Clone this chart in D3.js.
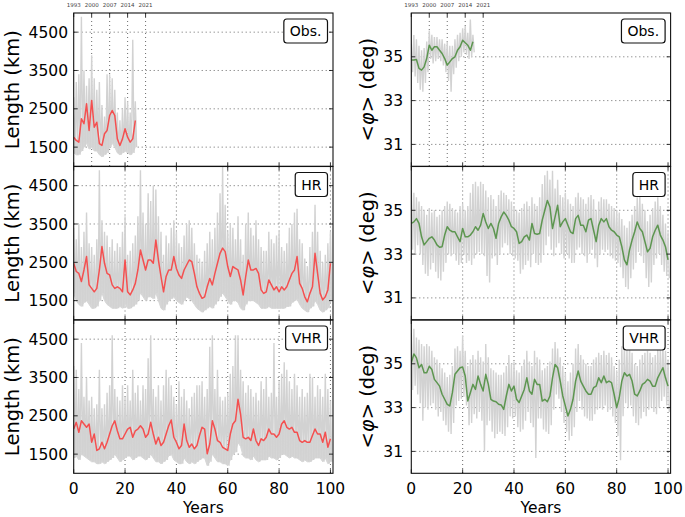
<!DOCTYPE html>
<html>
<head>
<meta charset="utf-8">
<script src="https://cdn.jsdelivr.net/npm/d3@7"></script>
<style>
  body { margin: 0; background: #fff; }
  text { font-family: "DejaVu Sans", sans-serif; }
</style>
</head>
<body>
<svg id="chart" width="685" height="517"></svg>
<script>
// ---- data (yearly values) ----
const obsTickYears = [0, 7, 14, 21, 28];
const obsTickLabels = ['1993', '2000', '2007', '2014', '2021'];
const xTicks = [0, 20, 40, 60, 80, 100];
const lengthTicks = [1500, 2500, 3500, 4500];
const latTicks = [31, 33, 35];
const panelNames = ['Obs.', 'HR', 'VHR'];

// front length (km)
const lenObsMean = [1760, 1675, 1630, 2240, 2110, 2630, 1935, 2720, 2020, 2150, 1590, 1545, 1850, 1935, 2325, 2455, 2325, 1715, 1545, 1715, 1980, 1760, 1630, 1715, 2195];
const lenObsHigh = [2800, 3200, 3400, 4900, 3500, 3100, 3300, 3900, 3300, 3000, 3200, 2600, 2300, 3400, 3400, 3300, 3000, 2400, 2200, 2500, 2800, 2700, 2400, 4300, 2700];
const lenObsLow = [1350, 1300, 1300, 1400, 1500, 1600, 1450, 1500, 1400, 1400, 1300, 1250, 1300, 1350, 1500, 1600, 1500, 1350, 1300, 1350, 1400, 1350, 1300, 1350, 1500];

const lenHrMean = [2475, 2260, 2210, 2000, 2300, 2650, 1910, 1820, 1730, 1820, 2300, 2910, 2475, 2210, 2170, 1910, 1820, 1860, 1820, 1730,
  2560, 1730, 1650, 1780, 1950, 2300, 2820, 2560, 2300, 2560, 2560, 2475, 3080, 2560, 2130, 1730, 2130, 2300, 2300, 2650,
  2340, 2170, 2080, 2300, 2430, 2560, 2520, 2210, 1860, 1690, 1560, 1600, 1860, 2080, 1910, 2210, 2475, 2735, 2870, 2780,
  2390, 2130, 2390, 2340, 2300, 2040, 1650, 2130, 2560, 2300, 2300, 2340, 2210, 1780, 1690, 1730, 2040, 1910, 1780, 1860,
  1730, 1860, 1780, 1860, 2040, 2210, 2300, 2650, 1950, 1820, 1600, 1470, 1690, 1860, 2735, 2210, 1690, 1520, 1600, 1780, 2475];
const lenHrHigh = [3400, 3100, 3500, 2900, 3300, 3800, 3000, 2900, 2700, 3100, 4900, 3600, 3300, 3200, 2900, 3100, 2800, 3000, 2900, 3300,
  3700, 2700, 2800, 3000, 3200, 3700, 4900, 3800, 3500, 4300, 4100, 4500, 4400, 3700, 3300, 2700, 3200, 3000, 3400, 3600,
  3300, 3000, 2900, 3200, 3500, 3600, 3400, 3000, 2700, 2600, 2500, 2800, 3000, 3300, 3100, 3400, 3800, 4300, 5000, 4000,
  3300, 3500, 3400, 3100, 3700, 3100, 2700, 3500, 3800, 3400, 3200, 3600, 3100, 2900, 2800, 2800, 3300, 3100, 3000, 3200,
  3300, 2900, 2800, 3000, 3400, 3500, 3800, 3900, 3100, 3000, 2600, 2400, 2900, 3300, 4000, 3300, 2800, 2500, 2700, 3000, 3300];
const lenHrLow = [1700, 1500, 1400, 1350, 1450, 1500, 1400, 1300, 1300, 1350, 1500, 1700, 1500, 1400, 1350, 1300, 1300, 1300, 1350, 1300,
  1400, 1300, 1300, 1350, 1400, 1500, 1700, 1600, 1500, 1600, 1600, 1550, 1700, 1500, 1300, 1250, 1400, 1500, 1550, 1600,
  1500, 1450, 1400, 1500, 1600, 1550, 1500, 1400, 1300, 1250, 1200, 1250, 1300, 1350, 1300, 1400, 1500, 1600, 1700, 1600,
  1500, 1400, 1500, 1500, 1450, 1300, 1250, 1400, 1500, 1500, 1500, 1450, 1400, 1300, 1300, 1300, 1350, 1300, 1300, 1300,
  1300, 1300, 1300, 1350, 1350, 1450, 1500, 1550, 1400, 1300, 1250, 1200, 1300, 1350, 1500, 1400, 1250, 1200, 1250, 1300, 1500];

const lenVhrMean = [2155, 2330, 2070, 2370, 2285, 2200, 2285, 1810, 2025, 1595, 1640, 1810, 1640, 1810, 2025, 2240, 2370, 2110, 1900, 1900,
  2025, 2155, 2200, 1940, 2110, 2155, 2240, 2155, 1940, 2025, 2330, 2025, 1765, 1940, 1725, 1810, 2025, 2240, 2390, 1940,
  1810, 1640, 1725, 2285, 1855, 1680, 1765, 1640, 1725, 1985, 2200, 2155, 1510, 1765, 2370, 2155, 1855, 1810, 1680, 1640,
  1595, 2025, 2285, 2370, 2930, 2545, 1940, 1900, 1940, 1855, 2155, 1855, 1725, 1900, 1855, 1940, 2155, 2025, 2025, 1940,
  2025, 2285, 2370, 2200, 2155, 2200, 2070, 2070, 1855, 1810, 1855, 1810, 1810, 1985, 2155, 2025, 2025, 1810, 2070, 1680, 1900];
const lenVhrHigh = [3800, 3700, 3200, 4400, 3000, 3500, 2900, 3000, 2700, 2800, 3700, 2700, 2800, 3100, 3300, 4600, 3200, 3000, 2900, 3300,
  3000, 3300, 2900, 3700, 3100, 3300, 2900, 3300, 3200, 4000, 4600, 3200, 3000, 3300, 2900, 3300, 3700, 3500, 3300, 3000,
  2800, 3400, 3000, 3200, 2900, 2700, 3000, 3100, 3300, 3300, 3400, 3000, 3200, 4300, 4600, 3200, 3700, 3000, 2900, 3000,
  3100, 3600, 3800, 4600, 4600, 3700, 3400, 3100, 3300, 3200, 3000, 3100, 2900, 3400, 3200, 3500, 3000, 3100, 4400, 3000,
  3400, 3600, 3900, 3700, 3400, 3200, 3600, 3300, 3000, 3200, 3000, 3100, 3600, 3500, 3000, 3300, 3200, 3000, 3600, 3200, 2900];
const lenVhrLow = [1400, 1450, 1350, 1500, 1450, 1400, 1350, 1300, 1300, 1250, 1250, 1300, 1250, 1300, 1350, 1400, 1500, 1400, 1300, 1350,
  1400, 1450, 1450, 1350, 1400, 1450, 1450, 1400, 1350, 1400, 1500, 1400, 1300, 1300, 1250, 1300, 1350, 1450, 1500, 1350,
  1300, 1250, 1250, 1400, 1300, 1250, 1300, 1250, 1300, 1350, 1400, 1400, 1200, 1300, 1500, 1400, 1300, 1300, 1250, 1250,
  1200, 1350, 1500, 1550, 1800, 1700, 1450, 1400, 1400, 1350, 1450, 1350, 1300, 1350, 1350, 1350, 1450, 1400, 1400, 1350,
  1400, 1500, 1500, 1450, 1400, 1450, 1400, 1400, 1350, 1300, 1350, 1300, 1300, 1350, 1400, 1400, 1400, 1300, 1400, 1250, 1300];

// mean latitude (deg)
const latObsMean = [34.85, 34.85, 34.88, 34.47, 34.39, 34.54, 34.92, 35.53, 35.3, 35.46, 35.46, 35.3, 35.15, 34.92, 34.62, 34.77, 34.92, 35.0, 35.3, 35.46, 35.76, 35.64, 35.53, 35.3, 35.69];
const latObsHigh = [35.6, 36.0, 35.8, 35.5, 35.3, 35.4, 35.7, 36.2, 36.0, 35.9, 35.9, 35.8, 35.8, 35.6, 35.7, 35.5, 35.5, 35.8, 36.0, 36.1, 36.3, 36.4, 36.1, 36.7, 36.0];
const latObsLow = [34.3, 34.1, 33.8, 33.5, 33.4, 33.8, 34.3, 34.9, 34.7, 34.8, 34.9, 34.8, 34.6, 34.3, 33.9, 33.4, 34.2, 34.5, 34.8, 35.0, 35.2, 35.1, 34.9, 35.0, 35.2];

const latHrMean = [34.4, 34.47, 34.62, 34.4, 33.79, 33.42, 33.57, 33.72, 33.79, 33.64, 33.42, 33.31, 33.34, 33.87, 34.25, 34.09, 34.02, 34.02, 33.79, 33.57,
  34.17, 33.79, 33.79, 33.87, 34.02, 34.25, 34.09, 34.32, 34.85, 34.47, 34.17, 34.4, 34.17, 33.72, 34.4, 34.7, 34.92, 34.77, 34.55, 34.25,
  34.17, 34.02, 33.49, 33.57, 33.79, 33.87, 33.64, 34.4, 33.94, 33.91, 33.94, 34.55, 35.0, 35.45, 35.15, 34.17, 34.7, 35.23, 34.25, 34.47,
  34.62, 34.32, 34.02, 33.94, 34.62, 34.77, 34.32, 34.32, 34.02, 34.55, 34.62, 34.09, 33.57, 34.32, 34.62, 34.47, 34.62, 34.25, 34.09, 34.02,
  33.87, 33.79, 33.34, 32.74, 32.51, 33.19, 33.64, 34.02, 34.47, 34.17, 34.02, 33.57, 33.11, 33.26, 33.79, 34.09, 34.32, 33.87, 33.64, 33.34, 32.74];
const latHrHigh = [35.9, 35.8, 35.6, 35.4, 35.2, 35.0, 34.8, 35.1, 34.9, 35.0, 34.7, 34.8, 35.0, 35.2, 35.4, 35.3, 35.1, 35.0, 34.9, 35.2,
  35.3, 35.0, 35.2, 35.8, 36.2, 36.3, 36.1, 36.3, 36.2, 35.9, 35.6, 35.7, 35.5, 35.2, 35.7, 35.9, 35.8, 35.7, 35.5, 35.4,
  35.2, 35.0, 34.9, 35.1, 35.3, 35.4, 35.2, 35.6, 35.3, 35.2, 35.6, 36.2, 36.6, 36.8, 36.4, 36.8, 36.0, 36.4, 35.7, 35.6,
  35.8, 35.5, 35.3, 35.2, 35.6, 35.8, 35.6, 35.5, 35.3, 35.6, 35.7, 35.5, 35.0, 35.4, 35.6, 35.5, 35.5, 35.3, 35.2, 35.1,
  35.0, 34.9, 34.6, 34.3, 34.2, 34.5, 34.8, 35.2, 35.6, 35.7, 35.3, 35.0, 34.5, 34.8, 35.1, 35.4, 35.6, 35.2, 34.8, 34.4, 34.0];
const latHrLow = [33.2, 33.0, 33.4, 33.0, 32.5, 32.1, 32.0, 32.3, 32.6, 32.2, 31.9, 31.8, 32.2, 32.6, 33.0, 32.9, 33.0, 32.7, 32.5, 32.6,
  33.0, 32.6, 32.7, 32.5, 32.8, 33.0, 33.1, 33.0, 32.9, 32.0, 31.7, 32.8, 32.9, 32.5, 33.0, 33.3, 33.5, 33.4, 33.0, 32.9,
  32.8, 32.7, 32.1, 32.3, 32.5, 32.7, 32.4, 33.0, 32.6, 32.5, 32.6, 33.0, 33.4, 33.8, 33.2, 32.9, 33.3, 33.5, 33.0, 32.8,
  33.0, 32.8, 32.6, 32.6, 33.2, 33.3, 33.0, 32.9, 32.6, 33.0, 33.2, 32.8, 32.4, 33.0, 33.2, 33.1, 33.2, 32.9, 32.8, 32.7,
  32.6, 32.4, 31.9, 31.5, 31.4, 31.9, 32.3, 32.6, 33.1, 32.9, 32.6, 31.9, 31.5, 31.7, 32.5, 32.8, 33.0, 32.5, 32.2, 32.0, 31.9];

const latVhrMean = [35.05, 35.45, 35.27, 34.82, 34.97, 34.59, 34.59, 34.89, 34.74, 34.29, 34.14, 33.98, 33.61, 33.38, 33.15, 33.08, 33.68, 34.52, 34.67, 34.82,
  34.85, 34.44, 33.3, 33.68, 34.06, 33.83, 34.44, 34.06, 33.76, 34.52, 34.06, 33.38, 33.3, 33.27, 33.15, 33.12, 32.92, 33.53, 34.06, 33.76,
  33.98, 33.38, 33.23, 33.53, 33.83, 34.36, 33.76, 33.61, 34.29, 34.06, 34.06, 33.3, 33.38, 33.27, 33.53, 34.36, 34.97, 34.82, 34.21, 33.53,
  33.08, 32.62, 32.92, 33.38, 34.21, 34.67, 34.21, 33.98, 33.76, 33.61, 33.61, 33.91, 33.98, 34.36, 34.14, 34.44, 34.14, 34.21, 34.14, 33.61,
  33.0, 33.45, 34.21, 34.59, 34.44, 34.52, 34.21, 33.61, 33.53, 33.76, 34.06, 34.14, 34.29, 34.21, 33.98, 33.98, 34.36, 34.59, 34.82, 34.36, 33.98];
const latVhrHigh = [36.4, 36.6, 36.2, 36.1, 35.9, 35.8, 35.9, 35.8, 35.6, 35.3, 35.2, 35.0, 34.8, 34.6, 34.4, 34.5, 34.9, 35.7, 35.8, 35.6,
  36.3, 35.6, 34.9, 35.2, 35.4, 35.2, 35.6, 35.3, 35.1, 35.9, 35.3, 34.8, 34.7, 34.6, 34.5, 34.5, 34.6, 34.9, 35.4, 35.0,
  35.1, 34.7, 34.6, 34.9, 35.2, 35.6, 35.1, 34.9, 35.6, 35.3, 35.2, 34.7, 34.8, 34.9, 35.1, 35.7, 36.0, 35.7, 35.3, 34.9,
  34.6, 34.2, 34.6, 35.0, 35.7, 35.9, 35.4, 35.2, 35.0, 34.9, 34.9, 35.2, 35.3, 35.5, 35.4, 35.6, 35.4, 35.5, 35.3, 34.9,
  34.7, 35.2, 35.8, 35.9, 35.7, 35.9, 35.5, 35.0, 34.9, 35.2, 35.4, 35.5, 35.6, 35.5, 35.3, 35.4, 35.7, 35.8, 35.9, 35.6, 35.2];
const latVhrLow = [33.8, 34.0, 33.6, 33.2, 32.4, 33.0, 32.9, 33.1, 33.2, 32.9, 32.6, 32.8, 32.4, 32.2, 31.9, 31.8, 32.3, 33.1, 33.3, 33.4,
  33.5, 33.1, 32.2, 32.3, 32.7, 32.5, 32.8, 32.4, 31.0, 32.2, 32.4, 31.9, 31.6, 31.8, 31.9, 31.8, 31.7, 32.1, 32.6, 32.5,
  32.6, 32.1, 31.9, 32.0, 32.4, 32.8, 32.3, 32.1, 30.7, 32.5, 32.5, 32.0, 31.9, 31.8, 32.2, 32.9, 33.6, 33.4, 32.8, 32.3,
  31.9, 31.5, 31.7, 32.1, 32.8, 33.3, 32.9, 32.6, 32.5, 32.4, 32.4, 32.7, 32.9, 33.0, 32.9, 33.1, 32.8, 32.9, 32.6, 32.3,
  31.7, 30.6, 32.6, 33.2, 33.0, 33.1, 32.6, 32.3, 32.2, 32.5, 32.8, 32.6, 32.9, 33.0, 32.8, 32.7, 33.0, 33.3, 33.5, 33.1, 32.8];

// ---- layout ----
const svg = d3.select('#chart');
const rowTop = [13, 166.5, 320];
const rowH = 153.3;

const columns = [
  {
    left: 73.7, right: 333, yDomain: [1000, 5000], yTicks: lengthTicks, yFmt: d3.format('d'),
    color: '#f45050', tickRight: 68, labelX: 18.5, core: true,
    series: [[lenObsMean, lenObsHigh, lenObsLow], [lenHrMean, lenHrHigh, lenHrLow], [lenVhrMean, lenVhrHigh, lenVhrLow]]
  },
  {
    left: 411.3, right: 670.6, yDomain: [30, 37], yTicks: latTicks, yFmt: d3.format('d'),
    color: '#5d9650', tickRight: 403, labelX: 374, core: false,
    series: [[latObsMean, latObsHigh, latObsLow], [latHrMean, latHrHigh, latHrLow], [latVhrMean, latVhrHigh, latVhrLow]]
  }
];

columns.forEach((col, ci) => {
  const x = d3.scaleLinear().domain([0, 101]).range([col.left, col.right]);

  col.series.forEach((s, ri) => {
    const top = rowTop[ri], bottom = top + rowH;
    const y = d3.scaleLinear().domain(col.yDomain).range([bottom, top]);
    const g = svg.append('g');
    const clipId = 'clip' + ci + ri;
    svg.append('clipPath').attr('id', clipId)
      .append('rect').attr('x', col.left).attr('y', top).attr('width', col.right - col.left).attr('height', rowH);

    // grid
    const grid = g.append('g').attr('stroke', '#444').attr('stroke-width', 0.8).attr('stroke-dasharray', '1,3');
    grid.selectAll('.hg').data(col.yTicks).enter().append('line')
      .attr('x1', col.left).attr('x2', col.right)
      .attr('y1', d => y(d)).attr('y2', d => y(d));
    const vTicks = ri === 0 ? obsTickYears.slice(1) : xTicks.slice(1);
    grid.selectAll('.vg').data(vTicks).enter().append('line')
      .attr('x1', d => x(d)).attr('x2', d => x(d))
      .attr('y1', top).attr('y2', bottom);

    // raw series: yearly highs and lows as grey strokes (plus a dense core for length)
    const [mean, hi, lo] = s;
    const plot = g.append('g').attr('clip-path', 'url(#' + clipId + ')');
    if (col.core) {
      const core = d3.area().x((d, i) => x(i)).y0((d, i) => y(lo[i])).y1(d => y(d));
      plot.append('path').datum(mean)
        .attr('d', core).attr('fill', '#d6d6d6').attr('stroke', '#d6d6d6').attr('stroke-width', 1);
    }
    const raw = [];
    hi.forEach((v, i) => { raw.push([i, v]); raw.push([i + 0.5, lo[i]]); });
    const line = d3.line().x(d => x(d[0])).y(d => y(d[1]));
    plot.append('path').datum(raw)
      .attr('d', line).attr('fill', 'none')
      .attr('stroke', '#d2d2d2').attr('stroke-width', 1.4);
    plot.append('path').datum(mean.map((v, i) => [i, v]))
      .attr('d', line).attr('fill', 'none')
      .attr('stroke', col.color).attr('stroke-width', 1.5).attr('stroke-linejoin', 'round');

    // ticks (inside, all four sides)
    const tk = g.append('g').attr('stroke', '#000').attr('stroke-width', 0.8);
    xTicks.forEach(t => {
      tk.append('line').attr('x1', x(t)).attr('x2', x(t)).attr('y1', bottom).attr('y2', bottom - 4);
      if (ri > 0) tk.append('line').attr('x1', x(t)).attr('x2', x(t)).attr('y1', top).attr('y2', top + 4);
    });
    if (ri === 0) obsTickYears.forEach(t => {
      tk.append('line').attr('x1', x(t)).attr('x2', x(t)).attr('y1', top).attr('y2', top + 4);
    });
    col.yTicks.forEach(t => {
      tk.append('line').attr('x1', col.left).attr('x2', col.left + 4).attr('y1', y(t)).attr('y2', y(t));
      tk.append('line').attr('x1', col.right).attr('x2', col.right - 4).attr('y1', y(t)).attr('y2', y(t));
    });

    // frame
    g.append('rect').attr('x', col.left).attr('y', top)
      .attr('width', col.right - col.left).attr('height', rowH)
      .attr('fill', 'none').attr('stroke', '#111').attr('stroke-width', 1.1);

    // y tick labels
    g.selectAll('.yl').data(col.yTicks).enter().append('text')
      .attr('x', col.tickRight).attr('y', d => y(d)).attr('dy', '0.36em')
      .attr('text-anchor', 'end').style('font-size', '15.5px').text(col.yFmt);

    // y axis label
    const lab = g.append('text')
      .attr('transform', 'translate(' + col.labelX + ',' + (top + rowH / 2) + ') rotate(-90)')
      .attr('text-anchor', 'middle').style('font-size', '19.5px');
    if (ci === 0) {
      lab.text('Length (km)');
    } else {
      lab.append('tspan').text('<');
      lab.append('tspan').style('font-style', 'italic').text('\u03C6');
      lab.append('tspan').text('> (deg)');
    }

    // panel label box
    const name = panelNames[ri];
    const txt = g.append('text').attr('text-anchor', 'end')
      .attr('x', col.right - 11.5).attr('y', top + 23)
      .style('font-size', '14px').text(name);
    const tw = txt.node().getComputedTextLength();
    g.insert('rect', 'text:last-of-type')
      .attr('x', col.right - 5.5 - tw - 12).attr('y', top + 6)
      .attr('width', tw + 12).attr('height', 24).attr('rx', 3)
      .attr('fill', '#fff').attr('stroke', '#111').attr('stroke-width', 1.2);
    txt.raise();

    // top year labels for observation panel
    if (ri === 0) {
      g.selectAll('.tl').data(obsTickYears).enter().append('text')
        .attr('x', d => x(d)).attr('y', top - 6.5)
        .attr('text-anchor', 'middle').style('font-size', '5.5px').attr('fill', '#444')
        .text((d, i) => obsTickLabels[i]);
    }

    // bottom x labels
    if (ri === 2) {
      g.selectAll('.xl').data(xTicks).enter().append('text')
        .attr('x', d => x(d)).attr('y', bottom + 21)
        .attr('text-anchor', 'middle').style('font-size', '15.5px').text(d => d);
      g.append('text').attr('x', x(50.5)).attr('y', bottom + 40)
        .attr('text-anchor', 'middle').style('font-size', '15.5px').text('Years');
    }
  });
});
</script>
</body>
</html>
